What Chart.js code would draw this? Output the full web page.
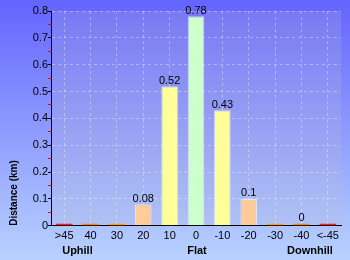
<!DOCTYPE html>
<html>
<head>
<meta charset="utf-8">
<script src="https://cdn.jsdelivr.net/npm/chart.js@4"></script>
<style>
  html, body { margin: 0; padding: 0; }
  #wrap { width: 350px; height: 260px; }
</style>
</head>
<body>
<div id="wrap"><canvas id="myChart"></canvas></div>
<script>
const gradeLabels = ['>45', '40', '30', '20', '10', '0', '-10', '-20', '-30', '-40', '<-45'];
const distanceKm = [0, 0, 0, 0.08, 0.52, 0.78, 0.43, 0.1, 0, 0.004, 0];
const barColors = ['#ff1a1a', '#ff8000', '#ff9a00', '#ffcc99', '#ffff99', '#ccffcc', '#ffff99', '#ffcc99', '#ff9a00', '#ff8000', '#ff1a1a'];
const groupLabels = ['Uphill', 'Flat', 'Downhill'];

const FONT = 'Liberation Sans, Arial, sans-serif';

// page + plot area backdrop
const backdrop = {
    id: 'backdrop',
    beforeDraw(chart) {
        const { ctx, width, height, chartArea } = chart;
        ctx.save();
        let g = ctx.createLinearGradient(0, 0, 0, height);
        g.addColorStop(0, '#6464ff');
        g.addColorStop(1, '#b8d2ff');
        ctx.fillStyle = g;
        ctx.fillRect(0, 0, width, height);
        ctx.fillStyle = 'rgba(190,190,200,0.2)';
        ctx.fillRect(chartArea.left, chartArea.top, chartArea.right - chartArea.left, chartArea.bottom - chartArea.top);
        ctx.restore();
    }
};

// value labels on top of the bars + Uphill / Flat / Downhill
const extraText = {
    id: 'extraText',
    afterDatasetsDraw(chart) {
        const { ctx } = chart;
        const meta = chart.getDatasetMeta(0);
        ctx.save();
        ctx.fillStyle = '#000';
        ctx.font = '11px ' + FONT;
        ctx.textAlign = 'center';
        ctx.textBaseline = 'bottom';
        meta.data.forEach((bar, i) => {
            const v = distanceKm[i];
            if (v > 0) {
                ctx.fillText(String(Math.round(v * 100) / 100), bar.x, bar.y);
            }
        });
        const xs = chart.scales.x;
        const y = xs.bottom + 4;
        ctx.font = 'bold 11px ' + FONT;
        ctx.textBaseline = 'middle';
        ctx.textAlign = 'left';
        ctx.fillText(groupLabels[0], xs.getPixelForValue(0) - 2, y);
        ctx.textAlign = 'center';
        ctx.fillText(groupLabels[1], xs.getPixelForValue(5) + 1, y);
        ctx.textAlign = 'right';
        ctx.fillText(groupLabels[2], xs.getPixelForValue(10) + 5, y);
        ctx.restore();
    }
};

const gridCol = 'rgba(255,255,255,0.35)';

new Chart(document.getElementById('myChart'), {
    type: 'bar',
    data: {
        labels: gradeLabels,
        datasets: [{
            data: distanceKm,
            backgroundColor: barColors,
            borderColor: 'rgba(255,255,255,0.6)',
            borderWidth: ctx => distanceKm[ctx.dataIndex] > 0.01 ? 1 : 0,
            borderSkipped: 'bottom',
            minBarLength: 2,
            barPercentage: 0.63,
            categoryPercentage: 1
        }]
    },
    options: {
        responsive: true,
        maintainAspectRatio: false,
        animation: false,
        layout: { padding: { top: 11, right: 9, bottom: 13, left: 0 } },
        plugins: {
            legend: { display: false },
            tooltip: { enabled: false }
        },
        scales: {
            x: {
                grid: {
                    offset: false,
                    color: gridCol,
                    drawTicks: false
                },
                border: { color: '#000', width: 1, dash: [3, 3] },
                ticks: {
                    color: '#000',
                    padding: 4,
                    autoSkip: false,
                    maxRotation: 0,
                    font: { family: FONT, size: 11 }
                }
            },
            y: {
                min: 0,
                max: 0.8,
                afterFit: scale => { scale.width = 51; },
                grid: {
                    color: ctx => ctx.index % 2 ? 'rgba(0,0,0,0)' : gridCol,
                    tickColor: ctx => ctx.index % 2 ? '#ff0000' : '#000',
                    tickLength: 3,
                    tickBorderDash: []
                },
                border: { color: '#000', width: 1, dash: [3, 3] },
                ticks: {
                    stepSize: 0.05,
                    autoSkip: false,
                    padding: 0,
                    color: '#000',
                    font: { family: FONT, size: 11 },
                    callback: (v, i) => i % 2 ? '' : String(Math.round(v * 10) / 10)
                },
                title: {
                    display: true,
                    text: 'Distance (km)',
                    align: 'start',
                    color: '#000',
                    padding: { top: 8, bottom: 0 },
                    font: { family: FONT, size: 10, weight: 'bold' }
                }
            }
        }
    },
    plugins: [backdrop, extraText]
});
</script>
</body>
</html>
